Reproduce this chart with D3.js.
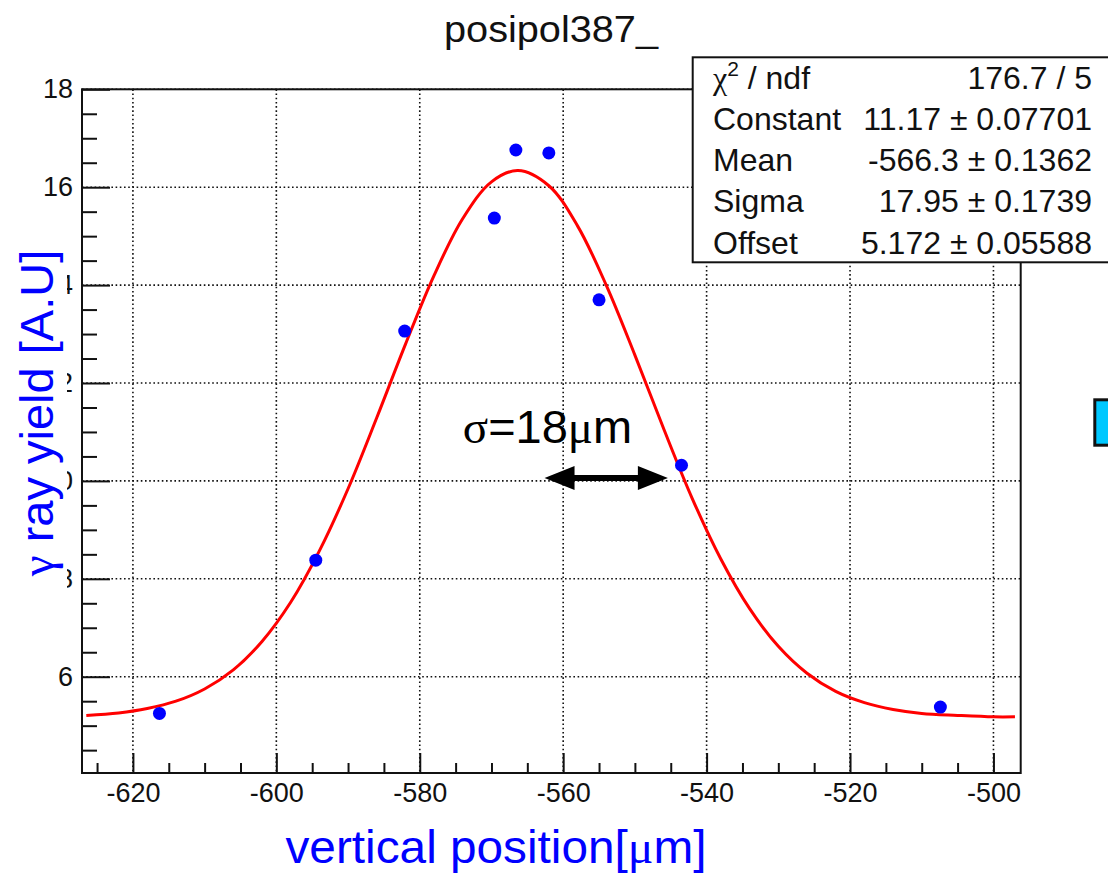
<!DOCTYPE html>
<html>
<head>
<meta charset="utf-8">
<script src="https://cdn.jsdelivr.net/npm/d3@7"></script>
<style>
  body { margin: 0; background: #fff; }
  svg { display: block; font-family: "Liberation Sans", Arial, sans-serif; }
</style>
</head>
<body>
<svg id="drawing_region"></svg>
<script>
// measured points (blue markers)
const pos_x   = [-616.3, -594.5, -582.1, -569.6, -566.6, -562.0, -555.0, -543.5, -507.4];
const yield_y = [5.25, 8.38, 13.06, 15.37, 16.76, 16.70, 13.70, 10.32, 5.38];

// red fit curve
const fit_x = [-626.5, -622, -618, -614, -610, -606, -602, -598, -594, -590, -586, -582, -578, -574, -570,
               -566.3, -562, -558, -554, -550, -546, -542, -538, -534, -530, -526, -522, -518, -514, -510, -505, -500, -497];
const fit_y = [5.21, 5.26, 5.35, 5.50, 5.75, 6.14, 6.72, 7.52, 8.57, 9.84, 11.29, 12.79, 14.20, 15.36, 16.11,
               16.34, 16.03, 15.21, 14.00, 12.57, 11.07, 9.64, 8.40, 7.39, 6.62, 6.07, 5.70, 5.47, 5.33, 5.25, 5.21, 5.18, 5.18];

// axes
const xticks = [-620, -600, -580, -560, -540, -520, -500];
const xtick_labels = ["-620", "-600", "-580", "-560", "-540", "-520", "-500"];
const yticks = [6, 8, 10, 12, 14, 16, 18];
const ytick_labels = ["6", "8", "10", "12", "14", "16", "18"];

// stat box
const stat_names  = ["/ ndf", "Constant", "Mean", "Sigma", "Offset"];
const stat_values = ["176.7 / 5", "11.17 \u00b1 0.07701", "-566.3 \u00b1 0.1362", "17.95 \u00b1 0.1739", "5.172 \u00b1 0.05588"];

// sigma annotation (data units)
const sigma_arrow_x = [-562.6, -545.4];
const sigma_arrow_y = 10.06;
const sigma_text_at = [-574.0, 10.77];

var config = {
    parent: '#drawing_region',
    title: "posipol387_",
    width: 1108,
    height: 873,
    margin: {top: 89.3, right: 87.3, bottom: 100, left: 82}
};

const svg = d3.select(config.parent)
    .attr('width', config.width)
    .attr('height', config.height);

svg.append('rect').attr('width', config.width).attr('height', config.height).attr('fill', '#fff');

const inner_width  = config.width - config.margin.left - config.margin.right;
const inner_height = config.height - config.margin.top - config.margin.bottom;

const chart = svg.append('g')
    .attr('transform', `translate(${config.margin.left}, ${config.margin.top})`);

const xscale = d3.scaleLinear().domain([-627.1, -496.2]).range([0, inner_width]);
const yscale = d3.scaleLinear().domain([4.033, 18.0]).range([inner_height, 0]);

// dotted grid
const grid = chart.append('g')
    .attr('stroke', '#111')
    .attr('stroke-width', 1.6)
    .attr('stroke-dasharray', '1.6,2.6');
grid.selectAll('.gx').data(xticks).enter().append('line')
    .attr('x1', d => xscale(d)).attr('x2', d => xscale(d))
    .attr('y1', 0).attr('y2', inner_height);
grid.selectAll('.gy').data(yticks).enter().append('line')
    .attr('y1', d => yscale(d)).attr('y2', d => yscale(d))
    .attr('x1', 0).attr('x2', inner_width);

// frame
chart.append('rect')
    .attr('width', inner_width).attr('height', inner_height)
    .attr('fill', 'none').attr('stroke', '#111').attr('stroke-width', 2);

// axes (ticks point inwards, like ROOT)
const xminor = d3.range(-625, -499, 5).filter(v => xticks.indexOf(v) < 0);
const yminor = d3.range(4.5, 18, 0.5).filter(v => yticks.indexOf(v) < 0);

const xaxis_group = chart.append('g').attr('transform', `translate(0, ${inner_height})`);
xaxis_group.append('g').call(d3.axisBottom(xscale).tickValues(xminor).tickFormat('')
    .tickSizeInner(-10).tickSizeOuter(0));
xaxis_group.append('g').call(d3.axisBottom(xscale).tickValues(xticks)
    .tickFormat((d, i) => xtick_labels[i]).tickSizeInner(-20).tickSizeOuter(0).tickPadding(10));

const yaxis_group = chart.append('g');
yaxis_group.append('g').call(d3.axisLeft(yscale).tickValues(yminor).tickFormat('')
    .tickSizeInner(-15).tickSizeOuter(0));
yaxis_group.append('g').call(d3.axisLeft(yscale).tickValues(yticks)
    .tickFormat((d, i) => ytick_labels[i]).tickSizeInner(-28).tickSizeOuter(0).tickPadding(9));

chart.selectAll('.domain').remove();
chart.selectAll('.tick line').attr('stroke', '#111').attr('stroke-width', 2);
chart.selectAll('.tick text')
    .attr('fill', '#111')
    .attr('font-size', null)
    .style('font-size', '27px')
    .style('font-family', '"Liberation Sans", Arial, sans-serif');

// fit curve
const line = d3.line()
    .x(d => xscale(d[0]))
    .y(d => yscale(d[1]))
    .curve(d3.curveCatmullRom);
chart.append('path')
    .datum(fit_x.map((x, i) => [x, fit_y[i]]))
    .attr('d', line)
    .attr('fill', 'none')
    .attr('stroke', '#ff0000')
    .attr('stroke-width', 3);

// data points
chart.selectAll('circle')
    .data(pos_x.map((x, i) => [x, yield_y[i]]))
    .enter()
    .append('circle')
    .attr('cx', d => xscale(d[0]))
    .attr('cy', d => yscale(d[1]))
    .attr('r', 6.5)
    .attr('fill', '#0000ff');

// sigma annotation
const ax0 = xscale(sigma_arrow_x[0]), ax1 = xscale(sigma_arrow_x[1]), ay = yscale(sigma_arrow_y);
const head = 30, half = 12;
chart.append('line')
    .attr('x1', ax0 + head - 2).attr('x2', ax1 - head + 2)
    .attr('y1', ay).attr('y2', ay)
    .attr('stroke', '#000').attr('stroke-width', 6);
chart.append('path')
    .attr('d', `M${ax0},${ay} L${ax0 + head},${ay - half} L${ax0 + head},${ay + half} Z`
             + `M${ax1},${ay} L${ax1 - head},${ay - half} L${ax1 - head},${ay + half} Z`)
    .attr('fill', '#000');

const sig = chart.append('text')
    .attr('x', xscale(sigma_text_at[0]))
    .attr('y', yscale(sigma_text_at[1]))
    .style('font-size', '47px')
    .attr('fill', '#000');
sig.append('tspan').style('font-family', '"Liberation Serif", serif').text('\u03c3');
sig.append('tspan').text('=18');
sig.append('tspan').style('font-family', '"Liberation Serif", serif').text('\u03bc');
sig.append('tspan').text('m');

// stat box
const box = svg.append('g');
box.append('rect')
    .attr('x', 692.7).attr('y', 57.3)
    .attr('width', 440).attr('height', 205)
    .attr('fill', '#fff').attr('stroke', '#111').attr('stroke-width', 2);
stat_names.forEach((name, i) => {
    const y = 88.8 + i * 41.2;
    const t = box.append('text')
        .attr('x', 713).attr('y', y)
        .style('font-size', '32px')
        .attr('fill', '#111');
    if (i === 0) {
        t.append('tspan').style('font-family', '"Liberation Serif", serif').text('\u03c7');
        t.append('tspan').attr('dy', -13).style('font-size', '21px').text('2');
        t.append('tspan').attr('dy', 13).text(' ' + name);
    } else {
        t.text(name);
    }
    box.append('text')
        .attr('x', 1092).attr('y', y)
        .attr('text-anchor', 'end')
        .style('font-size', '32px')
        .attr('fill', '#111')
        .text(stat_values[i]);
});

// title
svg.append('text')
    .attr('x', 551).attr('y', 42)
    .attr('text-anchor', 'middle')
    .attr('textLength', 214).attr('lengthAdjust', 'spacingAndGlyphs')
    .style('font-size', '36px')
    .attr('fill', '#111')
    .text(config.title);

// y label with white background (covers the tick labels, as in the slide)
svg.append('rect')
    .attr('x', 0).attr('y', 243)
    .attr('width', 67).attr('height', 349)
    .attr('fill', '#fff');
const ylab = svg.append('text')
    .attr('transform', 'translate(53, 413) rotate(-90)')
    .attr('text-anchor', 'middle')
    .style('font-size', '47px')
    .attr('fill', '#0000ff');
ylab.append('tspan').style('font-family', '"Liberation Serif", serif').text('\u03b3');
ylab.append('tspan').text(' ray yield [A.U]');

// x label
const xlab = svg.append('text')
    .attr('x', 496).attr('y', 863)
    .attr('text-anchor', 'middle')
    .attr('textLength', 421).attr('lengthAdjust', 'spacingAndGlyphs')
    .style('font-size', '46px')
    .attr('fill', '#0000ff');
xlab.append('tspan').text('vertical position[');
xlab.append('tspan').style('font-family', '"Liberation Serif", serif').text('\u03bc');
xlab.append('tspan').text('m]');

// partly visible legend box at the right edge
svg.append('rect')
    .attr('x', 1094.8).attr('y', 399.8)
    .attr('width', 30).attr('height', 45.4)
    .attr('fill', '#00c8ff')
    .attr('stroke', '#111').attr('stroke-width', 3);
</script>
</body>
</html>
